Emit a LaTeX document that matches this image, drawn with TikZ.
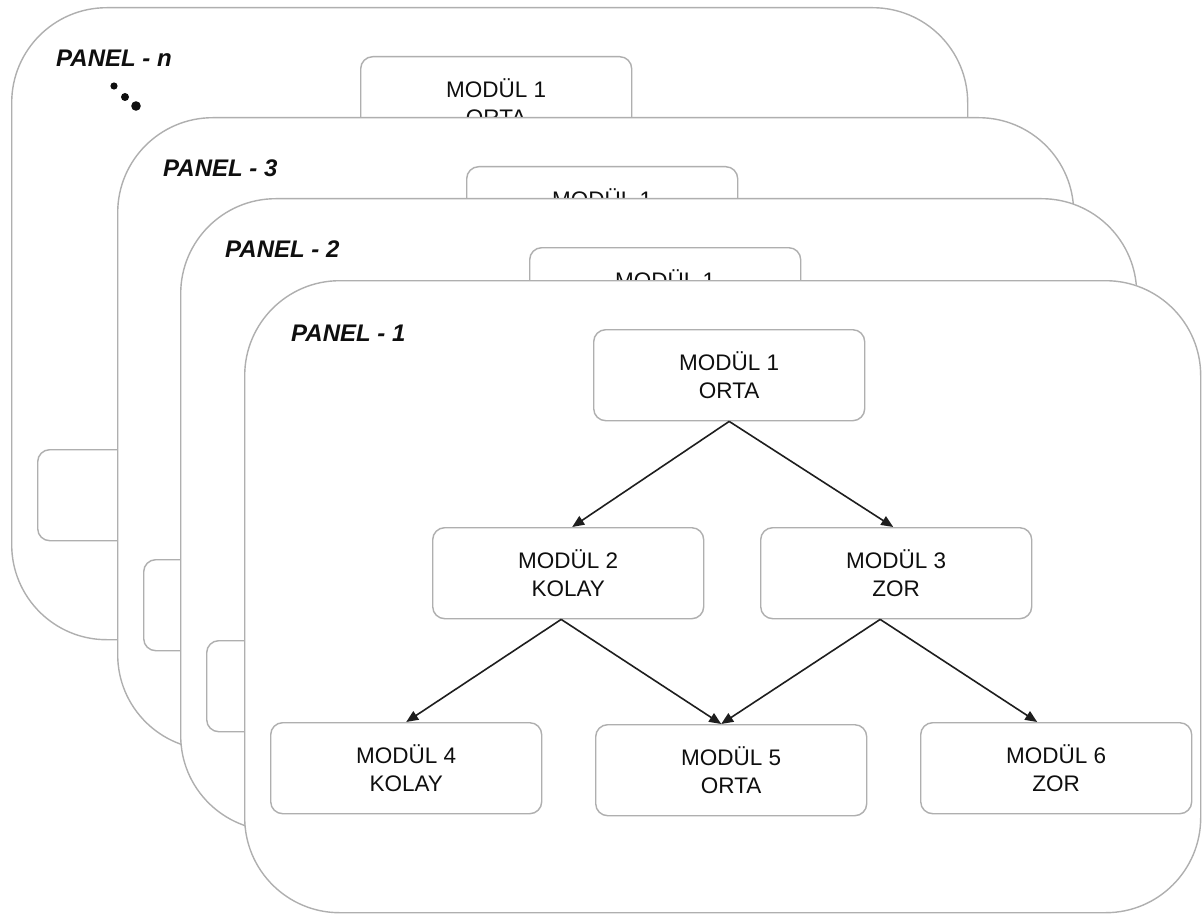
\documentclass[tikz,border=0pt]{standalone}
\usepackage{fontspec}
\setmainfont{Liberation Sans}
\usetikzlibrary{arrows.meta,calc}
\definecolor{panelgray}{RGB}{175,175,175}
\definecolor{boxgray}{RGB}{175,175,175}
\definecolor{arrowcol}{RGB}{30,30,30}
\definecolor{textcol}{RGB}{15,15,15}
\begin{document}
\begin{tikzpicture}[x=1pt,y=-1pt,
  panel/.style={draw=panelgray, line width=1.4pt, fill=white, rounded corners=95pt,
    minimum width=956pt, minimum height=632pt, anchor=north west, inner sep=0pt},
  modbox/.style={draw=boxgray, line width=1.4pt, fill=white, rounded corners=12pt,
    minimum width=271pt, minimum height=91pt, anchor=north west, align=center,
    inner sep=0pt, text=textcol, font=\fontsize{22.5}{28.5}\selectfont},
  plabel/.style={anchor=base west, inner sep=0pt, text=textcol,
    font=\fontsize{24}{28}\selectfont\bfseries\itshape},
  arr/.style={draw=arrowcol, line width=1.6pt, -{Triangle[length=12pt,width=10pt]}}]
\useasboundingbox (0,0) rectangle (1203,915);

% PANEL - n
\begin{scope}[shift={(11,7)}]
  \node[panel] (pn) at (0,0) {};
  \node[plabel] (pnl) at (45,60) {PANEL - n};
  \fill[textcol] (103,79) circle (3.6pt);
  \fill[textcol] (114,90) circle (4pt);
  \fill[textcol] (125,99) circle (4.8pt);
  \node[modbox] (pn-m1) at (349,49) {MODÜL 1\\ORTA};
  \node[modbox] (pn-m4) at (26,442) {MODÜL 4\\KOLAY};
\end{scope}

% PANEL - 3
\begin{scope}[shift={(117,117)}]
  \node[panel] (p3) at (0,0) {};
  \node[plabel] (p3l) at (46,60) {PANEL - 3};
  \node[modbox] (p3-m1) at (349,49) {MODÜL 1\\ORTA};
  \node[modbox] (p3-m4) at (26,442) {MODÜL 4\\KOLAY};
\end{scope}

% PANEL - 2
\begin{scope}[shift={(180,198)}]
  \node[panel] (p2) at (0,0) {};
  \node[plabel] (p2l) at (45,60) {PANEL - 2};
  \node[modbox] (p2-m1) at (349,49) {MODÜL 1\\ORTA};
  \node[modbox] (p2-m4) at (26,442) {MODÜL 4\\KOLAY};
\end{scope}

% PANEL - 1
\begin{scope}[shift={(244,280)}]
  \node[panel] (p1) at (0,0) {};
  \node[plabel] (p1l) at (47,61) {PANEL - 1};
  \node[modbox] (m1) at (349,49) {MODÜL 1\\ORTA};
  \node[modbox] (m2) at (188,247) {MODÜL 2\\KOLAY};
  \node[modbox] (m3) at (516,247) {MODÜL 3\\ZOR};
  \node[modbox] (m4) at (26,442) {MODÜL 4\\KOLAY};
  \node[modbox] (m5) at (351,444) {MODÜL 5\\ORTA};
  \node[modbox] (m6) at (676,442) {MODÜL 6\\ZOR};
\end{scope}

\draw[arr] (m1.south) -- ($(m2.north)+(4,0)$);
\draw[arr] (m1.south) -- ($(m3.north)+(-3,0)$);
\draw[arr] ($(m2.south)+(-7,0)$) -- (m4.north);
\draw[arr] ($(m2.south)+(-7,0)$) -- ($(m5.north)+(-10,0)$);
\draw[arr] ($(m3.south)+(-16,0)$) -- ($(m5.north)+(-10,0)$);
\draw[arr] ($(m3.south)+(-16,0)$) -- ($(m6.north)+(-19,0)$);
\end{tikzpicture}
\end{document}
